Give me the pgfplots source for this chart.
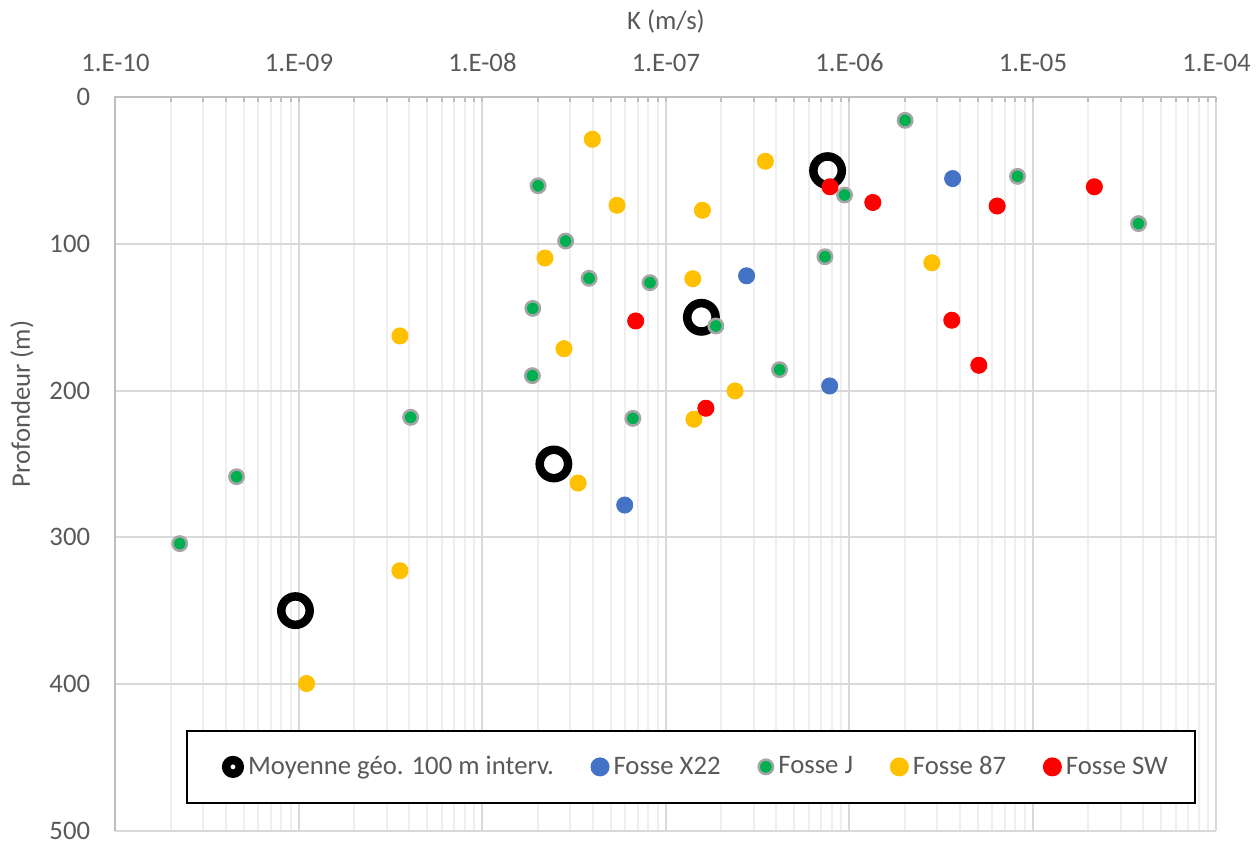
\documentclass[border=0pt]{standalone}
\usepackage{pgfplots}
\pgfplotsset{compat=1.18}
\usepackage{fontspec}
\setmainfont{Carlito}
\definecolor{txt}{HTML}{595959}
\definecolor{axisgray}{HTML}{BFBFBF}
\definecolor{majgrid}{HTML}{D9D9D9}
\definecolor{mingrid}{HTML}{EFEFEF}
\definecolor{cblue}{HTML}{4472C4}
\definecolor{cgreen}{HTML}{00B050}
\definecolor{cgreenedge}{HTML}{A5A5A5}
\definecolor{cyellow}{HTML}{FFC000}
\definecolor{cred}{HTML}{FF0000}
\newcommand{\chartfont}{\fontsize{13.35pt}{16pt}\selectfont}
\begin{document}
\begin{tikzpicture}
\begin{axis}[
  at={(0,0)}, anchor=south west,
  scale only axis, width=550.5pt, height=366.65pt,
  xmode=log, xmin=1e-10, xmax=1e-4, ymin=0, ymax=500, y dir=reverse,
  clip=false,
  axis line style={draw=none},
  /pgf/number format/assume math mode=true,
  xtick={1e-10,1e-9,1e-8,1e-7,1e-6,1e-5,1e-4},
  xticklabels={1.E-10,1.E-09,1.E-08,1.E-07,1.E-06,1.E-05,1.E-04},
  minor xtick={2e-10,3e-10,4e-10,5e-10,6e-10,7e-10,8e-10,9e-10,
               2e-9,3e-9,4e-9,5e-9,6e-9,7e-9,8e-9,9e-9,
               2e-8,3e-8,4e-8,5e-8,6e-8,7e-8,8e-8,9e-8,
               2e-7,3e-7,4e-7,5e-7,6e-7,7e-7,8e-7,9e-7,
               2e-6,3e-6,4e-6,5e-6,6e-6,7e-6,8e-6,9e-6,
               2e-5,3e-5,4e-5,5e-5,6e-5,7e-5,8e-5,9e-5},
  ytick={0,100,200,300,400,500},
  grid=both,
  major grid style={majgrid, line width=1pt},
  minor grid style={mingrid, line width=1pt},
  tick align=inside,
  xtick pos=right,
  xticklabel pos=right,
  major tick length=2.5pt, minor tick length=2.5pt,
  xtick style={axisgray, line width=1pt},
  ytick style={draw=none},
  xticklabel style={font=\chartfont, text=txt, anchor=base, inner sep=0pt, yshift=13.15pt},
  yticklabel style={font=\chartfont, text=txt, anchor=east, inner sep=0pt, xshift=-12.5pt},
  xlabel={K (m/s)},
  xlabel style={at={(axis description cs:0.5,1.0927)}, anchor=base, font=\chartfont, text=txt},
  ylabel={Profondeur (m)},
  ylabel style={at={(axis description cs:-0.07766,0.5818)}, anchor=base, font=\chartfont, text=txt},
  legend columns=5,
  legend cell align=left,
  legend style={at={(0.0645,0.1372)}, anchor=north west,
    draw=black, line width=1pt, fill=white,
    inner xsep=11.45pt, inner ysep=10.6pt,
    font=\chartfont, text=txt,
    /tikz/every even column/.append style={column sep=16.4pt}},
]
\addplot[only marks, mark=o, mark size=7.1pt, mark options={draw=black, line width=4.25pt},
  legend image code/.code={
    \path[draw=none, fill=none] (0.3cm,0cm) ++(-11.3pt,0pt) -- ++(1pt,0pt);
    \draw[black, line width=4.25pt] (0.3cm,0cm) circle (3.4pt);}]
  coordinates {(7.6e-7,50) (1.56e-7,150) (2.45e-8,250) (9.57e-10,350)};
\addlegendentry{Moyenne géo. 100 m interv.}
\addplot[only marks, mark=*, color=cblue, mark size=4.05pt,
  legend image code/.code={
    \fill[cblue] (0.3cm,0cm) circle (4.25pt);}]
  coordinates {(3.65e-6,55.4) (2.75e-7,121.7) (7.8e-7,196.8) (5.96e-8,278)};
\addlegendentry{Fosse X22}
\addplot[only marks, mark=*, color=cgreenedge, mark size=3.6pt, mark options={fill=cgreen, line width=1.25pt},
  legend image code/.code={
    \draw[cgreenedge, fill=cgreen, line width=1.25pt] (0.3cm,0cm) circle (3.6pt);}]
  coordinates {(2.01e-6,15.7) (2.01e-8,60.3) (8.24e-6,53.9) (9.4e-7,66.6) (3.76e-5,86.1)
    (2.84e-8,98) (7.35e-7,108.7) (3.81e-8,123.4) (8.18e-8,126.4) (1.88e-8,143.9)
    (1.87e-7,155.9) (1.87e-8,189.8) (4.16e-7,185.7) (4.06e-9,218.2) (6.6e-8,218.9)
    (4.57e-10,258.7) (2.24e-10,304.3)};
\addlegendentry{Fosse J}
\addplot[only marks, mark=*, color=cyellow, mark size=4.05pt,
  legend image code/.code={
    \fill[cyellow] (0.3cm,0cm) circle (4.25pt);}]
  coordinates {(3.97e-8,28.6) (3.48e-7,43.6) (5.41e-8,73.6) (1.58e-7,77) (2.19e-8,109.6)
    (1.40e-7,123.7) (2.81e-6,112.8) (3.55e-9,162.7) (2.78e-8,171.4) (2.38e-7,200.2)
    (1.42e-7,219.5) (3.32e-8,263) (3.55e-9,322.8) (1.10e-9,399.7)};
\addlegendentry{Fosse 87}
\addplot[only marks, mark=*, color=cred, mark size=4.05pt,
  legend image code/.code={
    \fill[cred] (0.3cm,0cm) circle (4.25pt);}]
  coordinates {(7.83e-7,61) (1.34e-6,71.7) (6.38e-6,74.1) (2.16e-5,61) (6.84e-8,152.5)
    (3.61e-6,152) (5.07e-6,182.7) (1.65e-7,212)};
\addlegendentry{Fosse SW}
\draw[axisgray, line width=1pt] (axis cs:1e-10,500) -- (axis cs:1e-10,0) -- (axis cs:1e-4,0);
\end{axis}
\pgfresetboundingbox
\path[use as bounding box] (-57.75pt,-6.2pt) rectangle (572.25pt,415.3pt);
\end{tikzpicture}
\end{document}
